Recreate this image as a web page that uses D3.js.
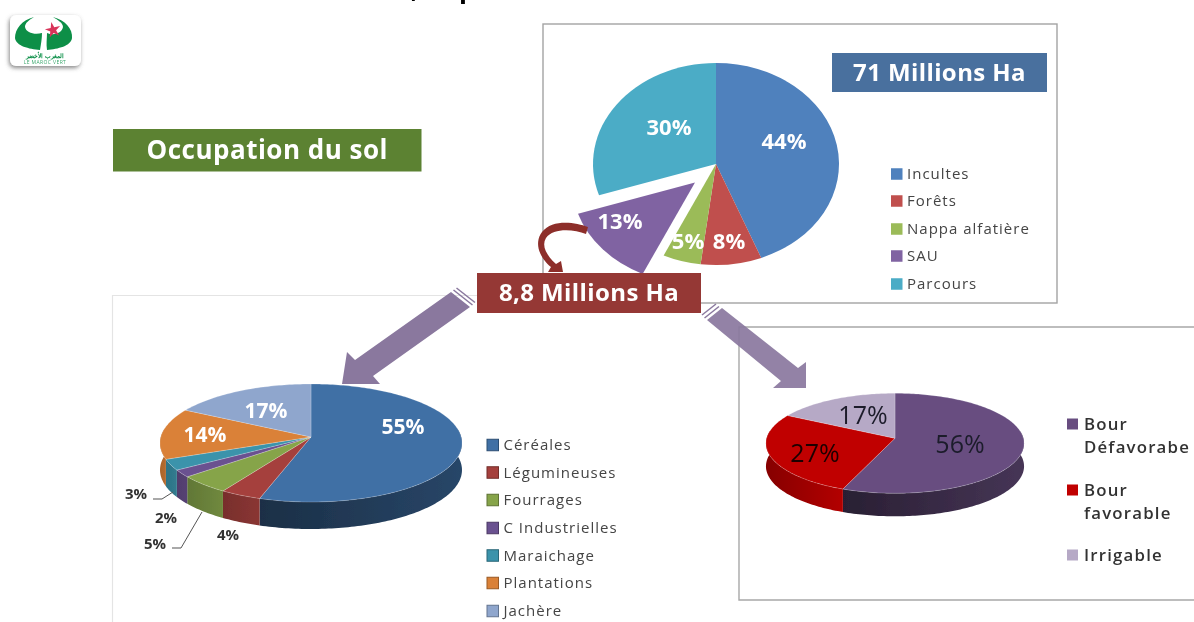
<!DOCTYPE html>
<html>
<head>
<meta charset="utf-8">
<script src="https://cdn.jsdelivr.net/npm/d3@7/dist/d3.min.js"></script>
<style>
    html, body { margin: 0; padding: 0; background: #fff; overflow: hidden; }
    svg { display: block; }
    text { font-family: "Open Sans", sans-serif; }
</style>
</head>
<body>
<div class="chart"></div>
<script>
const WIDTH = 1194
const HEIGHT = 622

// top pie : whole country
const landNames = ["Incultes", "Forêts", "Nappa alfatière", "SAU", "Parcours"]
const landValues = [44, 8, 5, 13, 30]
const landColors = ["#4f81bd", "#c0504d", "#9bbb59", "#8064a2", "#4bacc6"]

// left pie : crops
const cropNames = ["Céréales", "Légumineuses", "Fourrages", "C Industrielles", "Maraichage", "Plantations", "Jachère"]
const cropValues = [55, 4, 5, 2, 3, 14, 17]
const cropColors = ["#3f6fa5", "#a5403d", "#86a44a", "#6b5190", "#3a93ab", "#da8137", "#8fa6cd"]

// right pie : rainfall
const rainNames = [["Bour", "Défavorabe"], ["Bour", "favorable"], ["Irrigable"]]
const rainValues = [56, 27, 17]
const rainColors = ["#674e80", "#c00000", "#b6a9c6"]

// label placement, same order as the values
const landLabelPos = [[784, 141], [729, 241], [688, 241], [620, 221], [669, 127]]
const cropLabelPos = [[403, 427], [228, 535], [155, 544], [166, 518], [136, 494], [205, 435], [266, 411]]
const rainLabelPos = [[960, 444], [815, 453], [863, 415]]

const svg = d3.select(".chart").append("svg")
    .attr("width", WIDTH)
    .attr("height", HEIGHT)

const defs = svg.append("defs")
defs.append("filter").attr("id", "soft")
    .attr("filterUnits", "userSpaceOnUse")
    .attr("x", 0).attr("y", 0).attr("width", WIDTH).attr("height", HEIGHT)
    .append("feGaussianBlur").attr("stdDeviation", 0.45)
const shadow = defs.append("filter").attr("id", "logo-shadow")
    .attr("x", "-20%").attr("y", "-20%").attr("width", "140%").attr("height", "150%")
shadow.append("feDropShadow")
    .attr("dx", -1).attr("dy", 2).attr("stdDeviation", 2)
    .attr("flood-color", "#555").attr("flood-opacity", 0.7)

const root = svg.append("g").attr("filter", "url(#soft)")

const pie = d3.pie().sort(null).value(d => d).startAngle(0).endAngle(2 * Math.PI)

function draw_frames() {
    root.append("rect")
        .attr("x", 543).attr("y", 24).attr("width", 514).attr("height", 279)
        .attr("fill", "#fff").attr("stroke", "#a3a3a3").attr("stroke-width", 1.4)
    root.append("path")
        .attr("d", "M112.5,622V295.5H666")
        .attr("fill", "none").attr("stroke", "#e4e4e4").attr("stroke-width", 1.2)
    root.append("path")
        .attr("d", "M1194,327H739V600H1194")
        .attr("fill", "none").attr("stroke", "#a8a8a8").attr("stroke-width", 1.4)
}

function draw_box(x, y, w, h, color, label, size, spacing) {
    root.append("rect")
        .attr("x", x).attr("y", y).attr("width", w).attr("height", h)
        .attr("fill", color)
    root.append("text")
        .attr("x", x + w / 2).attr("y", y + h / 2)
        .attr("dy", "0.35em")
        .attr("text-anchor", "middle")
        .attr("font-size", size)
        .attr("font-weight", 700)
        .attr("letter-spacing", spacing)
        .attr("fill", "#fff")
        .text(label)
}

function draw_labels(values, positions, colors, size, weight) {
    root.append("g").selectAll("text")
        .data(values)
        .enter()
        .append("text")
        .attr("x", (d, i) => positions[i][0])
        .attr("y", (d, i) => positions[i][1])
        .attr("dy", "0.35em")
        .attr("text-anchor", "middle")
        .attr("font-size", (d, i) => Array.isArray(size) ? size[i] : size)
        .attr("font-weight", weight)
        .attr("fill", (d, i) => colors[i])
        .text(d => d + "%")
}

function draw_flat_pie() {
    const cx = 716, cy = 164, rx = 123, ry = 101
    const arc = d3.arc().innerRadius(0).outerRadius(ry)
    const explode = 28

    root.append("g")
        .selectAll("path")
        .data(pie(landValues))
        .enter()
        .append("path")
        .attr("d", arc)
        .attr("fill", (d, i) => landColors[i])
        .attr("transform", d => {
            let shift = [0, 0]
            if (d.data == 13) {
                let mid = (d.startAngle + d.endAngle) / 2
                shift = [explode * Math.sin(mid), -explode * Math.cos(mid)]
            }
            return `translate(${cx + shift[0]},${cy + shift[1]}) scale(${rx / ry},1)`
        })

    draw_labels(landValues, landLabelPos, landValues.map(() => "#fff"), 22, 700)
}

function draw_3d_pie(cfg) {
    // circle seen in perspective : the front looks bigger than the back
    const project = t => {
        const w = 1 + cfg.k * Math.cos(t)
        return [cfg.cx + cfg.a * Math.sin(t) / w, cfg.cy - cfg.b * Math.cos(t) / w]
    }
    const line = d3.line()
    const samples = (a0, a1) => {
        const n = Math.max(2, Math.ceil((a1 - a0) / 0.02))
        return d3.range(n + 1).map(i => a0 + (a1 - a0) * i / n)
    }
    const slices = pie(cfg.values)

    // side walls first, the top faces cover what is behind
    const walls = root.append("g")
    slices.forEach((d, i) => {
        const a0 = Math.max(d.startAngle, Math.PI / 2 - 0.15)
        const a1 = Math.min(d.endAngle, 3 * Math.PI / 2 + 0.15)
        if (a1 <= a0) return
        const rim = samples(a0, a1).map(project)
        const low = rim.map(p => [p[0], p[1] + cfg.depth]).reverse()
        const id = cfg.id + "-wall-" + i
        const grad = defs.append("linearGradient").attr("id", id)
        grad.append("stop").attr("offset", "0%")
            .attr("stop-color", d3.color(cfg.colors[i]).darker(cfg.walls[i][0]))
        grad.append("stop").attr("offset", "100%")
            .attr("stop-color", d3.color(cfg.colors[i]).darker(cfg.walls[i][1]))
        walls.append("path")
            .attr("d", line(rim.concat(low)) + "Z")
            .attr("fill", `url(#${id})`)
    })

    root.append("g")
        .selectAll("path")
        .data(slices)
        .enter()
        .append("path")
        .attr("d", d => line([[cfg.cx, cfg.cy]].concat(samples(d.startAngle, d.endAngle).map(project))) + "Z")
        .attr("fill", (d, i) => cfg.colors[i])
        .attr("stroke", "#fff")
        .attr("stroke-opacity", 0.3)
        .attr("stroke-width", 0.7)
}

function draw_legend(names, colors, x, ys, cfg) {
    const item = root.append("g").selectAll("g")
        .data(names)
        .enter()
        .append("g")
    item.append("rect")
        .attr("x", x)
        .attr("y", (d, i) => ys[i] - cfg.box / 2)
        .attr("width", cfg.box)
        .attr("height", cfg.box)
        .attr("fill", (d, i) => colors[i])
        .attr("stroke", cfg.border ? (d, i) => d3.color(colors[i]).darker(1) : "none")
    item.append("text")
        .attr("x", x + cfg.box + cfg.gap)
        .attr("y", (d, i) => ys[i])
        .attr("dy", "0.35em")
        .attr("font-size", cfg.size)
        .attr("letter-spacing", cfg.spacing || 0)
        .attr("fill", cfg.color)
        .text(d => d)
}

function draw_arrows() {
    const arrowColor = "#8a789e"
    // left arrow
    root.append("path")
        .attr("d", "M342,384L347,352L355,360L451,292L470,307L373,376L380,384Z")
        .attr("fill", arrowColor)
    // right arrow, the frame shows through it a little
    root.append("path")
        .attr("d", "M806,388L806,362L798,368L722,308L707,320L781,381L773,388Z")
        .attr("fill", arrowColor)
        .attr("fill-opacity", 0.92)

    // stripes at the tails
    const stripes = [
        [453.5, 290, 472.5, 305], [456.5, 288, 475, 302.5],
        [702, 315, 716, 304], [704.5, 318, 719, 306.5]
    ]
    root.append("g").selectAll("line")
        .data(stripes)
        .enter()
        .append("line")
        .attr("x1", d => d[0]).attr("y1", d => d[1])
        .attr("x2", d => d[2]).attr("y2", d => d[3])
        .attr("stroke", arrowColor)
        .attr("stroke-width", 1.5)

    // curved arrow from the SAU slice down to the red box
    root.append("path")
        .attr("d", "M588,227C575,222 552,219 542,232C533,244 541,259 551,267L548,272L563,272L561,261L556,264C547,256 541,246 546,238C553,228 573,229 586,234Z")
        .attr("fill", "#8d2f2b")
}

function draw_leaders() {
    root.append("path")
        .attr("d", "M153,499H162L173,492M172,548H181L202,512")
        .attr("fill", "none")
        .attr("stroke", "#555")
        .attr("stroke-width", 1)
}

function draw_logo() {
    const logo = root.append("g")
    logo.append("rect")
        .attr("x", 10).attr("y", 15).attr("width", 71).attr("height", 51).attr("rx", 6)
        .attr("fill", "#fff")
        .attr("filter", "url(#logo-shadow)")
    logo.append("path")
        .attr("d", "M34,17C22,20 15,29 15,38C16,46 29,49 40,50C41,44 42,38 42,33C35,35 26,33 25,27C25,23 29,20 34,17Z")
        .attr("fill", "#0a8f47")
    logo.append("path")
        .attr("d", "M53,17C65,20 73,29 72,38C71,46 58,49 47,50C46,44 47,38 47,33C54,36 62,33 63,27C63,23 58,20 53,17Z")
        .attr("fill", "#0a8f47")
    logo.append("path")
        .attr("d", d3.symbol(d3.symbolStar, 75))
        .attr("transform", "translate(53,30) rotate(-12)")
        .attr("fill", "#d8345a")
    logo.append("text")
        .attr("x", 45).attr("y", 57.5)
        .attr("text-anchor", "middle")
        .attr("font-family", "'DejaVu Sans'")
        .attr("font-size", 6)
        .attr("font-weight", 700)
        .attr("fill", "#0a8f47")
        .text("المغرب الأخضر")
    logo.append("text")
        .attr("x", 45).attr("y", 64)
        .attr("text-anchor", "middle")
        .attr("font-size", 5)
        .attr("letter-spacing", 0.4)
        .attr("fill", "#3aa76d")
        .text("LE MAROC VERT")
}

function draw_cut_title() {
    // the slide title is cropped by the picture, only the descenders show
    root.append("g").selectAll("text")
        .data([[411, ","], [459, "p"]])
        .enter()
        .append("text")
        .attr("x", d => d[0])
        .attr("y", -2)
        .attr("font-size", 26)
        .attr("font-weight", 700)
        .attr("fill", "#000")
        .text(d => d[1])
}

draw_cut_title()
draw_logo()
draw_frames()
draw_box(113, 129, 308.5, 42.5, "#5b8231", "Occupation du sol", 26, 0.5)

draw_flat_pie()
draw_box(832, 53, 215, 39, "#4a6f9e", "71 Millions Ha", 24, 0.4)
draw_legend(landNames, landColors, 891, [174, 201, 229, 256, 284],
    { box: 11.5, gap: 4.5, size: 15, color: "#444", spacing: 1 })

draw_3d_pie({ id: "crop", cx: 311, cy: 437, a: 150.2, b: 58.4, k: 0.1017, depth: 27,
    values: cropValues, colors: cropColors,
    walls: [[2.4, 1.3], [0.9, 0.5], [0.9, 0.5], [0.8, 0.6], [0.7, 0.5], [0.7, 0.5], [0.7, 0.7]] })
draw_labels(cropValues, cropLabelPos,
    ["#fff", "#333", "#333", "#333", "#333", "#fff", "#fff"],
    [21, 15, 15, 15, 15, 21, 21], 700)
draw_leaders()
draw_legend(cropNames, cropColors, 487, [445, 472.5, 500, 528, 555.5, 583, 611],
    { box: 11.5, gap: 5, size: 15, color: "#444", spacing: 1, border: true })

draw_3d_pie({ id: "rain", cx: 895, cy: 438.3, a: 128.4, b: 49.5, k: 0.1, depth: 23,
    values: rainValues, colors: rainColors,
    walls: [[2.6, 1.1], [1.0, 0.2], [1, 1]] })
draw_labels(rainValues, rainLabelPos, ["#1c1c2a", "#1c0000", "#1c1c2a"], 25, 400)

// legend of the right pie has labels on two lines
const rainLines = rainNames.flat()
const rainLineY = [424, 447, 490, 513, 555]
root.append("g").selectAll("text")
    .data(rainLines)
    .enter()
    .append("text")
    .attr("x", 1084)
    .attr("y", (d, i) => rainLineY[i])
    .attr("dy", "0.35em")
    .attr("font-size", 16.8)
    .attr("font-weight", 600)
    .attr("letter-spacing", 1.2)
    .attr("fill", "#333")
    .text(d => d)
root.append("g").selectAll("rect")
    .data(rainColors)
    .enter()
    .append("rect")
    .attr("x", 1067)
    .attr("y", (d, i) => [424, 490, 555][i] - 5.5)
    .attr("width", 11)
    .attr("height", 11)
    .attr("fill", d => d)

draw_arrows()
draw_box(477, 273, 224, 40, "#953735", "8,8 Millions Ha", 24, 0.4)
</script>
</body>
</html>
